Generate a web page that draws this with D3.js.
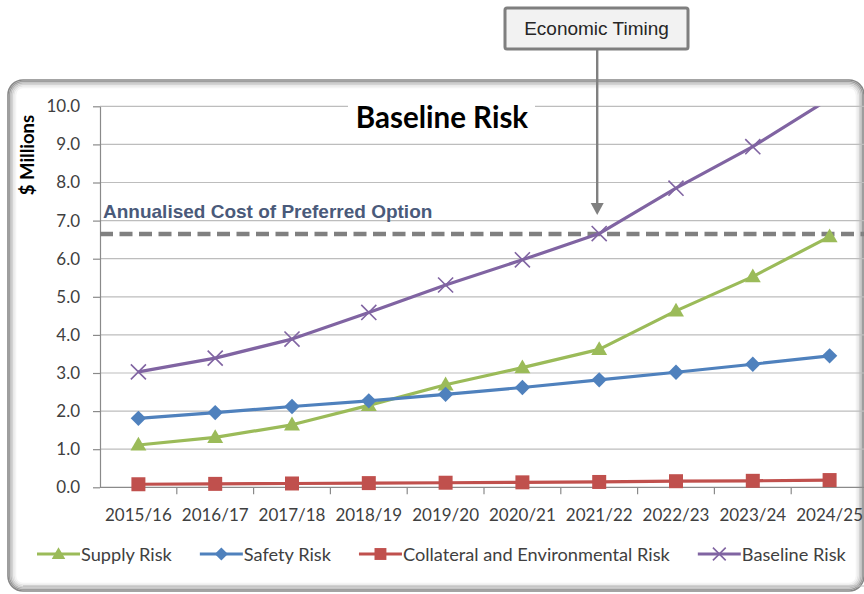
<!DOCTYPE html>
<html>
<head>
<meta charset="utf-8">
<script src="https://cdn.jsdelivr.net/npm/d3@7"></script>
<style>
  html, body { margin: 0; padding: 0; background: #fff; }
  svg { display: block; }
</style>
</head>
<body>
<svg id="chart" width="864" height="594"></svg>
<script>
// Financial years on the category axis
const years = ["2015/16", "2016/17", "2017/18", "2018/19", "2019/20",
               "2020/21", "2021/22", "2022/23", "2023/24", "2024/25"];

// Risk cost per year, $ millions
const supplyRisk     = [1.11, 1.31, 1.64, 2.15, 2.69, 3.14, 3.62, 4.63, 5.53, 6.58];
const safetyRisk     = [1.81, 1.96, 2.12, 2.27, 2.44, 2.62, 2.82, 3.02, 3.23, 3.45];
const collateralRisk = [0.08, 0.09, 0.10, 0.11, 0.12, 0.13, 0.14, 0.16, 0.17, 0.19];
const baselineRisk   = [3.03, 3.39, 3.89, 4.59, 5.31, 5.97, 6.66, 7.85, 8.94, 10.2];

// Reference level and value-axis ticks
const preferredOptionCost = 6.65;
const yTicks = [0, 1, 2, 3, 4, 5, 6, 7, 8, 9, 10];
const yMax = 10;
const timingYear = "2021/22";

const seriesNames  = ["Supply Risk", "Safety Risk", "Collateral and Environmental Risk", "Baseline Risk"];
const seriesValues = [supplyRisk, safetyRisk, collateralRisk, baselineRisk];
const seriesColors = ["#9BBB59", "#4F81BD", "#C0504D", "#8064A2"];
const seriesMarks  = ["triangle", "diamond", "square", "cross"];

const svg = d3.select("#chart");
const W = 864, H = 594;
const plot = { left: 100, right: 868, top: 106.3, bottom: 487.3 };

const calibri = "Lato, 'Open Sans', sans-serif";
const arial = "'Liberation Sans', Arial, sans-serif";

svg.append("rect").attr("width", W).attr("height", H).attr("fill", "#fff");

// Rounded chart frame with a soft bevelled edge
const frame = { x: 8, y: 80, w: 856, h: 511, r: 15 };
const frameShades = ["#878787", "#9e9e9e", "#bababa", "#d3d3d3", "#e6e6e6", "#f4f4f4"];
frameShades.forEach((c, i) => {
  const inset = i * 1.5;
  svg.append("rect")
    .attr("x", frame.x + inset).attr("y", frame.y + inset)
    .attr("width", frame.w - 2 * inset).attr("height", frame.h - 2 * inset)
    .attr("rx", Math.max(2, frame.r - inset)).attr("ry", Math.max(2, frame.r - inset))
    .attr("fill", i === 0 ? "#fff" : "none")
    .attr("stroke", c).attr("stroke-width", 1.6);
});
// second, lighter shadow line along the bottom edge
svg.append("path")
  .attr("d", `M${frame.x + frame.r},${frame.y + frame.h - 5} H${W}`)
  .attr("stroke", "#b8b8b8").attr("stroke-width", 1.2).attr("fill", "none");

// Scales
const x = d3.scaleBand().domain(years).range([plot.left, plot.right]).padding(0);
const cx = d => x(d) + x.bandwidth() / 2;
const y = d3.scaleLinear().domain([0, yMax]).range([plot.bottom, plot.top]);

// Horizontal gridlines
svg.append("g").selectAll("line")
  .data(yTicks.filter(t => t > 0))
  .join("line")
  .attr("x1", plot.left).attr("x2", plot.right)
  .attr("y1", d => y(d)).attr("y2", d => y(d))
  .attr("stroke", "#bdbdbd").attr("stroke-width", 1.2);

// Value axis
const yAxis = d3.axisLeft(y)
  .tickValues(yTicks)
  .tickFormat(d3.format(".1f"))
  .tickSize(7).tickSizeOuter(0).tickPadding(13);
const gy = svg.append("g").attr("transform", `translate(${plot.left},0)`).call(yAxis);
gy.select(".domain").attr("stroke", "#8a8a8a").attr("stroke-width", 1.2);
gy.selectAll(".tick line").attr("stroke", "#8a8a8a").attr("stroke-width", 1.2);
gy.selectAll(".tick text")
  .attr("font-family", calibri).attr("font-size", 17).attr("fill", "#404040");

// Category axis: labels centred in each band, ticks on band boundaries
const xAxis = d3.axisBottom(x).tickSize(0).tickPadding(21.5).tickSizeOuter(0);
const gx = svg.append("g").attr("transform", `translate(0,${plot.bottom})`).call(xAxis);
gx.select(".domain").remove();
gx.selectAll(".tick text")
  .attr("font-family", calibri).attr("font-size", 17).attr("fill", "#404040");
svg.append("line")
  .attr("x1", plot.left).attr("x2", plot.right)
  .attr("y1", plot.bottom).attr("y2", plot.bottom)
  .attr("stroke", "#8a8a8a").attr("stroke-width", 1.2);
svg.append("g").selectAll("line")
  .data(years.slice(1))
  .join("line")
  .attr("x1", d => x(d)).attr("x2", d => x(d))
  .attr("y1", plot.bottom).attr("y2", plot.bottom + 7)
  .attr("stroke", "#8a8a8a").attr("stroke-width", 1.2);

// Axis title
svg.append("text")
  .attr("transform", `translate(34,155) rotate(-90)`)
  .attr("text-anchor", "middle")
  .attr("font-family", calibri).attr("font-weight", 700).attr("font-size", 18.5)
  .attr("fill", "#000")
  .text("$ Millions");

// Chart title on a white plate over the gridlines
svg.append("rect").attr("x", 348).attr("y", 98).attr("width", 187).attr("height", 42).attr("fill", "#fff");
svg.append("text")
  .attr("x", 442).attr("y", 128).attr("text-anchor", "middle")
  .attr("font-family", calibri).attr("font-weight", 700).attr("font-size", 29.5)
  .attr("fill", "#000")
  .text("Baseline Risk");

// Annualised cost reference line
svg.append("line")
  .attr("x1", plot.left).attr("x2", plot.right)
  .attr("y1", y(preferredOptionCost)).attr("y2", y(preferredOptionCost))
  .attr("stroke", "#808080").attr("stroke-width", 4.5)
  .attr("stroke-dasharray", "13,6.5");
svg.append("text")
  .attr("x", 103).attr("y", 218)
  .attr("font-family", arial).attr("font-weight", 700).attr("font-size", 19)
  .attr("fill", "#4a5a7a")
  .text("Annualised Cost of Preferred Option");

// Series lines, clipped to the plot area
svg.append("clipPath").attr("id", "plotClip")
  .append("rect")
  .attr("x", plot.left).attr("y", plot.top)
  .attr("width", plot.right - plot.left).attr("height", plot.bottom - plot.top + 10);

const series = svg.append("g").attr("clip-path", "url(#plotClip)");
const markers = svg.append("g");

function marker(sel, kind, color, scale) {
  const k = scale || 1;
  if (kind === "triangle") {
    sel.append("path").attr("d", d3.symbol(d3.symbolTriangle, 110 * k * k)())
      .attr("transform", "translate(0,1)")
      .attr("fill", color);
  } else if (kind === "diamond") {
    sel.append("path").attr("d", d3.symbol(d3.symbolSquare, 118 * k * k)())
      .attr("transform", "rotate(45)")
      .attr("fill", color);
  } else if (kind === "square") {
    sel.append("path").attr("d", d3.symbol(d3.symbolSquare, 196 * k * k)())
      .attr("fill", color);
  } else {
    sel.append("path").attr("d", d3.symbol(d3.symbolX, 150 * k * k)())
      .attr("fill", "none").attr("stroke", color).attr("stroke-width", 1.6);
  }
}

const line = d3.line().x(d => cx(d.year)).y(d => y(d.value));

seriesValues.forEach((vals, i) => {
  const pts = years.map((yr, j) => ({ year: yr, value: vals[j] }));
  series.append("path")
    .datum(pts)
    .attr("d", line)
    .attr("fill", "none")
    .attr("stroke", seriesColors[i])
    .attr("stroke-width", 3.2)
    .attr("stroke-linejoin", "round");
  // points above the axis maximum are not marked
  markers.append("g").selectAll("g")
    .data(pts.filter(d => d.value <= yMax))
    .join("g")
    .attr("transform", d => `translate(${cx(d.year)},${y(d.value)})`)
    .each(function () { marker(d3.select(this), seriesMarks[i], seriesColors[i]); });
});

// Economic timing callout
const calloutX = cx(timingYear) - 2;
svg.append("rect")
  .attr("x", 505).attr("y", 8).attr("width", 183).attr("height", 41).attr("rx", 2)
  .attr("fill", "#f2f2f2").attr("stroke", "#7f7f7f").attr("stroke-width", 3);
svg.append("text")
  .attr("x", 596.5).attr("y", 35).attr("text-anchor", "middle")
  .attr("font-family", arial).attr("font-size", 19).attr("fill", "#262626")
  .text("Economic Timing");
svg.append("line")
  .attr("x1", calloutX).attr("x2", calloutX)
  .attr("y1", 50).attr("y2", 204)
  .attr("stroke", "#808080").attr("stroke-width", 2.4);
svg.append("path")
  .attr("d", `M${calloutX - 6.5},203 L${calloutX + 6.5},203 L${calloutX},215 Z`)
  .attr("fill", "#808080");

// Legend laid out left to right
const legend = svg.append("g");
let lx = 37;
const legendY = 554;
seriesNames.forEach((name, i) => {
  const item = legend.append("g");
  item.append("line")
    .attr("x1", lx).attr("x2", lx + 43)
    .attr("y1", legendY).attr("y2", legendY)
    .attr("stroke", seriesColors[i]).attr("stroke-width", 3.2);
  const m = item.append("g").attr("transform", `translate(${lx + 21.5},${legendY})`);
  marker(m, seriesMarks[i], seriesColors[i], 0.85);
  const t = item.append("text")
    .attr("x", lx + 44).attr("y", legendY + 6.5)
    .attr("font-family", calibri).attr("font-size", 18.2).attr("fill", "#404040")
    .text(name);
  lx += 44 + t.node().getComputedTextLength() + 28;
});
</script>
</body>
</html>
